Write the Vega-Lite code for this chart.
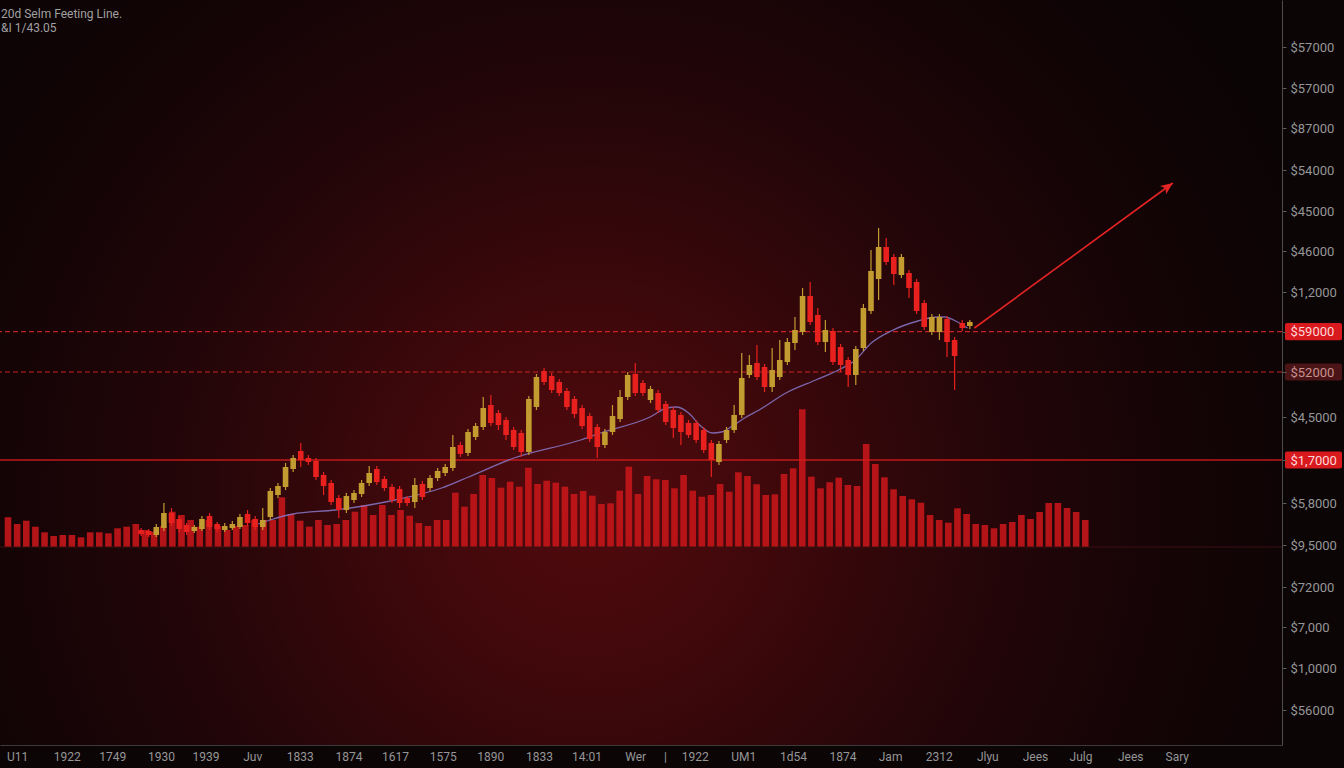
{
  "$schema": "https://vega.github.io/schema/vega-lite/v6.json",
  "width": 1282,
  "height": 745,
  "autosize": {"type": "none"},
  "padding": {"left": 0, "top": 0, "right": 62, "bottom": 23},
  "background": "#0b0506",
  "title": {
    "text": ["20d Selm Feeting Line.", "&I 1/43.05"],
    "anchor": "start",
    "frame": "group",
    "orient": "top",
    "offset": -35,
    "dx": 1,
    "fontSize": 12,
    "fontWeight": "normal",
    "font": "Roboto",
    "color": "#a0a0a0",
    "lineHeight": 14
  },
  "config": {"view": {"stroke": null}},
  "view": {
    "stroke": null,
    "fill": {
      "gradient": "radial",
      "x1": 0.46, "y1": 0.6, "x2": 0.46, "y2": 0.6, "r1": 0, "r2": 0.6,
      "stops": [
        {"offset": 0, "color": "#520a0e"},
        {"offset": 0.25, "color": "#3e080b"},
        {"offset": 0.5, "color": "#260609"},
        {"offset": 0.75, "color": "#150406"},
        {"offset": 1, "color": "#0b0405"}
      ]
    }
  },
  "datasets": {
    "volume": [
      {"k":0,"vol":297},{"k":1,"vol":230},{"k":2,"vol":263},{"k":3,"vol":203},{"k":4,"vol":147},{"k":5,"vol":110},{"k":6,"vol":120},{"k":7,"vol":120},{"k":8,"vol":97},{"k":9,"vol":147},
      {"k":10,"vol":147},{"k":11,"vol":137},{"k":12,"vol":187},{"k":13,"vol":203},{"k":14,"vol":230},{"k":15,"vol":170},{"k":16,"vol":153},{"k":17,"vol":210},{"k":18,"vol":353},{"k":19,"vol":320},
      {"k":20,"vol":270},{"k":21,"vol":203},{"k":22,"vol":270},{"k":23,"vol":210},{"k":24,"vol":170},{"k":25,"vol":210},{"k":26,"vol":220},{"k":27,"vol":270},{"k":28,"vol":270},{"k":29,"vol":270},
      {"k":30,"vol":497},{"k":31,"vol":330},{"k":32,"vol":263},{"k":33,"vol":203},{"k":34,"vol":270},{"k":35,"vol":220},{"k":36,"vol":230},{"k":37,"vol":270},{"k":38,"vol":353},{"k":39,"vol":420},
      {"k":40,"vol":320},{"k":41,"vol":420},{"k":42,"vol":320},{"k":43,"vol":370},{"k":44,"vol":313},{"k":45,"vol":240},{"k":46,"vol":210},{"k":47,"vol":270},{"k":48,"vol":270},{"k":49,"vol":543},
      {"k":50,"vol":403},{"k":51,"vol":530},{"k":52,"vol":720},{"k":53,"vol":690},{"k":54,"vol":593},{"k":55,"vol":653},{"k":56,"vol":603},{"k":57,"vol":793},{"k":58,"vol":630},{"k":59,"vol":663},
      {"k":60,"vol":643},{"k":61,"vol":603},{"k":62,"vol":530},{"k":63,"vol":560},{"k":64,"vol":513},{"k":65,"vol":430},{"k":66,"vol":437},{"k":67,"vol":563},{"k":68,"vol":803},{"k":69,"vol":530},
      {"k":70,"vol":710},{"k":71,"vol":677},{"k":72,"vol":670},{"k":73,"vol":587},{"k":74,"vol":720},{"k":75,"vol":563},{"k":76,"vol":503},{"k":77,"vol":520},{"k":78,"vol":630},{"k":79,"vol":553},
      {"k":80,"vol":747},{"k":81,"vol":710},{"k":82,"vol":627},{"k":83,"vol":520},{"k":84,"vol":527},{"k":85,"vol":730},{"k":86,"vol":787},{"k":87,"vol":1377},{"k":88,"vol":703},{"k":89,"vol":587},
      {"k":90,"vol":647},{"k":91,"vol":693},{"k":92,"vol":620},{"k":93,"vol":610},{"k":94,"vol":1030},{"k":95,"vol":830},{"k":96,"vol":697},{"k":97,"vol":577},{"k":98,"vol":510},{"k":99,"vol":477},
      {"k":100,"vol":443},{"k":101,"vol":320},{"k":102,"vol":270},{"k":103,"vol":243},{"k":104,"vol":387},{"k":105,"vol":330},{"k":106,"vol":230},{"k":107,"vol":220},{"k":108,"vol":187},{"k":109,"vol":230},
      {"k":110,"vol":250},{"k":111,"vol":320},{"k":112,"vol":280},{"k":113,"vol":350},{"k":114,"vol":440},{"k":115,"vol":440},{"k":116,"vol":390},{"k":117,"vol":350},{"k":118,"vol":270}
    ],
    "candles": [
      {"i":0,"o":6750,"h":6800,"l":6600,"c":6650},
      {"i":1,"o":6725,"h":6775,"l":6575,"c":6625},
      {"i":2,"o":6625,"h":6900,"l":6575,"c":6825},
      {"i":3,"o":6800,"h":7425,"l":6725,"c":7175},
      {"i":4,"o":7175,"h":7300,"l":6850,"c":6925},
      {"i":5,"o":7025,"h":7100,"l":6700,"c":6775},
      {"i":6,"o":6875,"h":6925,"l":6625,"c":6700},
      {"i":7,"o":6725,"h":6875,"l":6675,"c":6825},
      {"i":8,"o":6775,"h":7100,"l":6725,"c":7025},
      {"i":9,"o":7100,"h":7175,"l":6750,"c":6825},
      {"i":10,"o":6900,"h":6950,"l":6700,"c":6775},
      {"i":11,"o":6750,"h":6925,"l":6700,"c":6850},
      {"i":12,"o":6800,"h":6975,"l":6750,"c":6900},
      {"i":13,"o":6825,"h":7150,"l":6775,"c":7075},
      {"i":14,"o":7150,"h":7250,"l":6850,"c":6925},
      {"i":15,"o":7025,"h":7100,"l":6750,"c":6825},
      {"i":16,"o":6825,"h":7300,"l":6750,"c":7000},
      {"i":17,"o":7075,"h":7800,"l":7000,"c":7725},
      {"i":18,"o":7625,"h":7925,"l":7550,"c":7850},
      {"i":19,"o":7825,"h":8425,"l":7750,"c":8325},
      {"i":20,"o":8275,"h":8625,"l":8200,"c":8550},
      {"i":21,"o":8725,"h":8925,"l":8325,"c":8500},
      {"i":22,"o":8550,"h":8625,"l":8375,"c":8450},
      {"i":23,"o":8475,"h":8550,"l":8000,"c":8075},
      {"i":24,"o":8125,"h":8200,"l":7625,"c":7850},
      {"i":25,"o":7925,"h":8000,"l":7375,"c":7450},
      {"i":26,"o":7550,"h":7625,"l":7050,"c":7250},
      {"i":27,"o":7250,"h":7675,"l":7175,"c":7600},
      {"i":28,"o":7500,"h":7750,"l":7425,"c":7675},
      {"i":29,"o":7650,"h":8000,"l":7575,"c":7925},
      {"i":30,"o":7925,"h":8350,"l":7850,"c":8175},
      {"i":31,"o":8275,"h":8350,"l":7875,"c":7950},
      {"i":32,"o":8025,"h":8100,"l":7725,"c":7800},
      {"i":33,"o":7825,"h":7900,"l":7425,"c":7500},
      {"i":34,"o":7775,"h":7850,"l":7300,"c":7425},
      {"i":35,"o":7550,"h":7600,"l":7350,"c":7425},
      {"i":36,"o":7450,"h":8050,"l":7300,"c":7875},
      {"i":37,"o":7900,"h":7975,"l":7500,"c":7575},
      {"i":38,"o":7800,"h":8125,"l":7725,"c":8050},
      {"i":39,"o":8050,"h":8300,"l":7975,"c":8225},
      {"i":40,"o":8175,"h":8400,"l":8100,"c":8325},
      {"i":41,"o":8300,"h":9125,"l":8225,"c":8825},
      {"i":42,"o":8875,"h":8950,"l":8575,"c":8650},
      {"i":43,"o":8675,"h":9275,"l":8600,"c":9200},
      {"i":44,"o":9075,"h":9425,"l":9000,"c":9350},
      {"i":45,"o":9325,"h":10075,"l":9250,"c":9800},
      {"i":46,"o":9875,"h":10125,"l":9350,"c":9425},
      {"i":47,"o":9675,"h":9750,"l":9250,"c":9375},
      {"i":48,"o":9500,"h":9575,"l":9000,"c":9125},
      {"i":49,"o":9250,"h":9325,"l":8750,"c":8825},
      {"i":50,"o":9175,"h":9250,"l":8575,"c":8700},
      {"i":51,"o":8700,"h":10100,"l":8625,"c":10025},
      {"i":52,"o":9825,"h":10650,"l":9750,"c":10575},
      {"i":53,"o":10725,"h":10800,"l":10375,"c":10450},
      {"i":54,"o":10600,"h":10675,"l":10175,"c":10250},
      {"i":55,"o":10450,"h":10525,"l":10100,"c":10175},
      {"i":56,"o":10225,"h":10300,"l":9750,"c":9825},
      {"i":57,"o":10025,"h":10100,"l":9550,"c":9650},
      {"i":58,"o":9800,"h":9875,"l":9275,"c":9350},
      {"i":59,"o":9600,"h":9675,"l":8950,"c":9025},
      {"i":60,"o":9325,"h":9400,"l":8550,"c":8825},
      {"i":61,"o":8875,"h":9275,"l":8800,"c":9200},
      {"i":62,"o":9200,"h":9875,"l":9125,"c":9600},
      {"i":63,"o":9525,"h":10250,"l":9450,"c":10075},
      {"i":64,"o":10075,"h":10700,"l":10000,"c":10625},
      {"i":65,"o":10650,"h":10925,"l":10100,"c":10175},
      {"i":66,"o":10425,"h":10500,"l":10100,"c":10175},
      {"i":67,"o":10000,"h":10350,"l":9925,"c":10275},
      {"i":68,"o":10175,"h":10250,"l":9675,"c":9750},
      {"i":69,"o":9900,"h":9975,"l":9375,"c":9450},
      {"i":70,"o":9750,"h":9825,"l":9050,"c":9300},
      {"i":71,"o":9625,"h":9700,"l":8875,"c":9200},
      {"i":72,"o":9425,"h":9500,"l":9050,"c":9125},
      {"i":73,"o":9425,"h":9500,"l":8925,"c":9000},
      {"i":74,"o":9250,"h":9325,"l":8675,"c":8750},
      {"i":75,"o":8925,"h":9000,"l":8075,"c":8500},
      {"i":76,"o":8450,"h":8975,"l":8375,"c":8900},
      {"i":77,"o":9000,"h":9325,"l":8925,"c":9250},
      {"i":78,"o":9250,"h":9875,"l":9175,"c":9625},
      {"i":79,"o":9625,"h":11175,"l":9550,"c":10550},
      {"i":80,"o":10625,"h":11125,"l":10550,"c":10875},
      {"i":81,"o":10925,"h":11375,"l":10500,"c":10575},
      {"i":82,"o":10825,"h":10900,"l":10200,"c":10325},
      {"i":83,"o":10325,"h":11300,"l":10200,"c":10750},
      {"i":84,"o":10575,"h":11500,"l":10500,"c":11000},
      {"i":85,"o":10950,"h":11550,"l":10875,"c":11450},
      {"i":86,"o":11425,"h":12075,"l":11250,"c":11750},
      {"i":87,"o":11700,"h":12800,"l":11625,"c":12600},
      {"i":88,"o":12600,"h":12950,"l":11875,"c":11950},
      {"i":89,"o":12125,"h":12300,"l":11375,"c":11450},
      {"i":90,"o":11450,"h":12000,"l":11200,"c":11750},
      {"i":91,"o":11725,"h":11800,"l":10875,"c":10950},
      {"i":92,"o":11325,"h":11400,"l":10700,"c":10875},
      {"i":93,"o":11000,"h":11075,"l":10325,"c":10625},
      {"i":94,"o":10625,"h":11350,"l":10375,"c":11275},
      {"i":95,"o":11300,"h":12400,"l":11225,"c":12300},
      {"i":96,"o":12225,"h":13750,"l":12150,"c":13225},
      {"i":97,"o":13025,"h":14300,"l":12500,"c":13825},
      {"i":98,"o":13825,"h":14050,"l":13375,"c":13450},
      {"i":99,"o":13575,"h":13650,"l":12875,"c":13150},
      {"i":100,"o":13125,"h":13650,"l":13050,"c":13575},
      {"i":101,"o":13175,"h":13250,"l":12550,"c":12800},
      {"i":102,"o":12950,"h":13025,"l":12150,"c":12225},
      {"i":103,"o":12425,"h":12500,"l":11750,"c":11825},
      {"i":104,"o":11700,"h":12150,"l":11625,"c":12075},
      {"i":105,"o":11700,"h":12150,"l":11500,"c":12075},
      {"i":106,"o":12025,"h":12100,"l":11075,"c":11450},
      {"i":107,"o":11500,"h":11575,"l":10250,"c":11100},
      {"i":108,"o":11925,"h":12000,"l":11725,"c":11800},
      {"i":109,"o":11850,"h":12000,"l":11775,"c":11950}
    ],
    "ma": [
      {"i":15.4,"price":6900},{"i":16.96,"price":7000},{"i":19.96,"price":7150},{"i":25.57,"price":7250},
      {"i":33.4,"price":7500},{"i":39.53,"price":7800},{"i":43.06,"price":8075},{"i":49.06,"price":8550},
      {"i":57.8,"price":9000},{"i":60.41,"price":9175},{"i":66.94,"price":9575},{"i":69.15,"price":9800},
      {"i":70.46,"price":9825},{"i":72.16,"price":9650},{"i":73.46,"price":9375},{"i":75.16,"price":9175},
      {"i":76.33,"price":9200},{"i":77.77,"price":9350},{"i":79.59,"price":9575},{"i":81.29,"price":9750},
      {"i":84.81,"price":10175},{"i":88.73,"price":10500},{"i":91.73,"price":10750},{"i":93.95,"price":11000},
      {"i":96.03,"price":11425},{"i":98.64,"price":11725},{"i":102.17,"price":11975},{"i":104.78,"price":12075},
      {"i":105.69,"price":12075},{"i":107.38,"price":11950},{"i":108.69,"price":11800}
    ],
    "arrow": [
      {"i":109.6,"price":11800},
      {"i":135.7,"price":15425}
    ],
    "arrowhead": [
      {"i":135.7,"price":15425}
    ],
    "dashes": [
      {"price":11710},
      {"price":10700}
    ],
    "solids": [
      {"price":8500}
    ],
    "tags": [
      {"price":11710,"kind":"bright"},
      {"price":10700,"kind":"dark"},
      {"price":8500,"kind":"bright"}
    ]
  },
  "layer": [
    {
      "layer": [
        {
          "data": {"name": "volume"},
          "mark": {"type": "bar", "width": 6.6, "color": "#c4161a", "opacity": 0.9},
          "encoding": {
            "x": {"field": "k", "type": "quantitative", "scale": {"domain": [-0.33, 139.0], "nice": false, "zero": false}, "axis": null},
            "y": {"field": "vol", "type": "quantitative", "scale": {"domain": [-1980, 5470], "nice": false, "zero": false}, "axis": null},
            "y2": {"datum": 0}
          }
        },
        {
          "data": {"values": [{"vol": 0}]},
          "mark": {"type": "rule", "color": "#3c1010", "strokeWidth": 1},
          "encoding": {
            "y": {"field": "vol", "type": "quantitative", "scale": {"domain": [-1980, 5470], "nice": false, "zero": false}, "axis": null}
          }
        }
      ]
    },
    {
      "layer": [
        {
          "data": {"name": "dashes"},
          "mark": {"type": "rule", "color": "#e02828", "strokeWidth": 1.2, "strokeDash": [5, 3], "opacity": 0.85},
          "encoding": {
            "y": {"field": "price", "type": "quantitative", "scale": {"domain": [1375, 20000], "nice": false, "zero": false},
              "axis": {
                "orient": "right",
                "title": null,
                "grid": false,
                "zindex": 2,
                "values": [2250, 3300, 4325, 5325, 6375, 7425, 8500, 9575, 10700, 11710, 12700, 13725, 14725, 15750, 16800, 17800, 18825],
                "labelExpr": "['$56000','$1,0000','$7,000','$72000','$9,5000','$5,8000','$1,7000','$4,5000','$52000','$59000','$1,2000','$46000','$45000','$54000','$87000','$57000','$57000'][indexof([2250,3300,4325,5325,6375,7425,8500,9575,10700,11710,12700,13725,14725,15750,16800,17800,18825], datum.value)]",
                "domainColor": "#4d4d4d",
                "tickColor": "#5a5a5a",
                "tickSize": 4,
                "labelPadding": 4,
                "labelFont": "Roboto",
                "labelFontSize": 13,
                "labelColor": {"condition": [{"test": "datum.value === 11710 || datum.value === 8500", "value": "#ffd8d8"}, {"test": "datum.value === 10700", "value": "#c89090"}], "value": "#969696"}
              }
            }
          }
        },
        {
          "data": {"name": "solids"},
          "mark": {"type": "rule", "color": "#d01c1c", "strokeWidth": 1.4, "opacity": 0.9},
          "encoding": {
            "y": {"field": "price", "type": "quantitative", "scale": {"domain": [1375, 20000], "nice": false, "zero": false}}
          }
        },
        {
          "data": {"name": "ma"},
          "mark": {"type": "line", "color": "#8878c8", "strokeWidth": 1.3, "opacity": 0.85, "interpolate": "monotone"},
          "encoding": {
            "x": {"field": "i", "type": "quantitative", "scale": {"domain": [-17.9, 149.4], "nice": false, "zero": false},
              "axis": {
                "orient": "bottom",
                "title": null,
                "grid": false,
                "ticks": false,
                "labelFlush": false,
                "labelOverlap": false,
                "values": [-16.31, -9.79, -3.78, 2.61, 8.48, 14.61, 20.88, 27.27, 33.4, 39.67, 45.93, 52.32, 58.59, 64.98, 68.89, 72.81, 79.2, 85.73, 92.25, 98.51, 104.91, 111.3, 117.56, 123.56, 130.09, 136.22],
                "labelExpr": "['U11','1922','1749','1930','1939','Juv','1833','1874','1617','1575','1890','1833','14:01','Wer','|','1922','UM1','1d54','1874','Jam','2312','Jlyu','Jees','Julg','Jees','Sary'][indexof([-16.31,-9.79,-3.78,2.61,8.48,14.61,20.88,27.27,33.4,39.67,45.93,52.32,58.59,64.98,68.89,72.81,79.2,85.73,92.25,98.51,104.91,111.3,117.56,123.56,130.09,136.22], datum.value)]",
                "domainColor": "#3a3a3a",
                "labelPadding": 6,
                "labelFont": "Roboto",
                "labelFontSize": 12,
                "labelColor": "#969696"
              }
            },
            "y": {"field": "price", "type": "quantitative", "scale": {"domain": [1375, 20000], "nice": false, "zero": false}}
          }
        },
        {
          "data": {"name": "candles"},
          "mark": {"type": "rule", "strokeWidth": 1.2},
          "encoding": {
            "x": {"field": "i", "type": "quantitative", "scale": {"domain": [-17.9, 149.4], "nice": false, "zero": false}},
            "y": {"field": "l", "type": "quantitative", "scale": {"domain": [1375, 20000], "nice": false, "zero": false}},
            "y2": {"field": "h"},
            "color": {"condition": {"test": "datum.c >= datum.o", "value": "#c29c30"}, "value": "#e8201e"}
          }
        },
        {
          "data": {"name": "candles"},
          "mark": {"type": "bar", "width": 5.6},
          "encoding": {
            "x": {"field": "i", "type": "quantitative", "scale": {"domain": [-17.9, 149.4], "nice": false, "zero": false}},
            "y": {"field": "o", "type": "quantitative", "scale": {"domain": [1375, 20000], "nice": false, "zero": false}},
            "y2": {"field": "c"},
            "color": {"condition": {"test": "datum.c >= datum.o", "value": "#c29c30"}, "value": "#e8201e"}
          }
        },
        {
          "data": {"name": "arrow"},
          "mark": {"type": "line", "color": "#e42424", "strokeWidth": 1.6},
          "encoding": {
            "x": {"field": "i", "type": "quantitative", "scale": {"domain": [-17.9, 149.4], "nice": false, "zero": false}},
            "y": {"field": "price", "type": "quantitative", "scale": {"domain": [1375, 20000], "nice": false, "zero": false}}
          }
        },
        {
          "data": {"name": "arrowhead"},
          "mark": {"type": "point", "shape": "M0,0 L0.6,1.4 L0,1.05 L-0.6,1.4 Z", "size": 300, "filled": true, "color": "#e42424", "opacity": 1, "angle": 54},
          "encoding": {
            "x": {"field": "i", "type": "quantitative", "scale": {"domain": [-17.9, 149.4], "nice": false, "zero": false}},
            "y": {"field": "price", "type": "quantitative", "scale": {"domain": [1375, 20000], "nice": false, "zero": false}}
          }
        },
        {
          "data": {"name": "tags"},
          "mark": {"type": "point", "shape": "M-0.93,-0.3 H0.93 Q1,-0.3 1,-0.23 V0.23 Q1,0.3 0.93,0.3 H-0.93 Q-1,0.3 -1,0.23 V-0.23 Q-1,-0.3 -0.93,-0.3 Z", "size": 3249, "filled": true, "opacity": 1, "xOffset": 31.5, "strokeWidth": 0},
          "encoding": {
            "x": {"value": "width"},
            "y": {"field": "price", "type": "quantitative", "scale": {"domain": [1375, 20000], "nice": false, "zero": false}},
            "color": {"field": "kind", "type": "nominal", "scale": {"domain": ["bright", "dark"], "range": ["#d8191d", "#4b1517"]}, "legend": null}
          }
        }
      ]
    }
  ],
  "resolve": {
    "scale": {"x": "independent", "y": "independent"},
    "axis": {"x": "independent", "y": "independent"}
  }
}
